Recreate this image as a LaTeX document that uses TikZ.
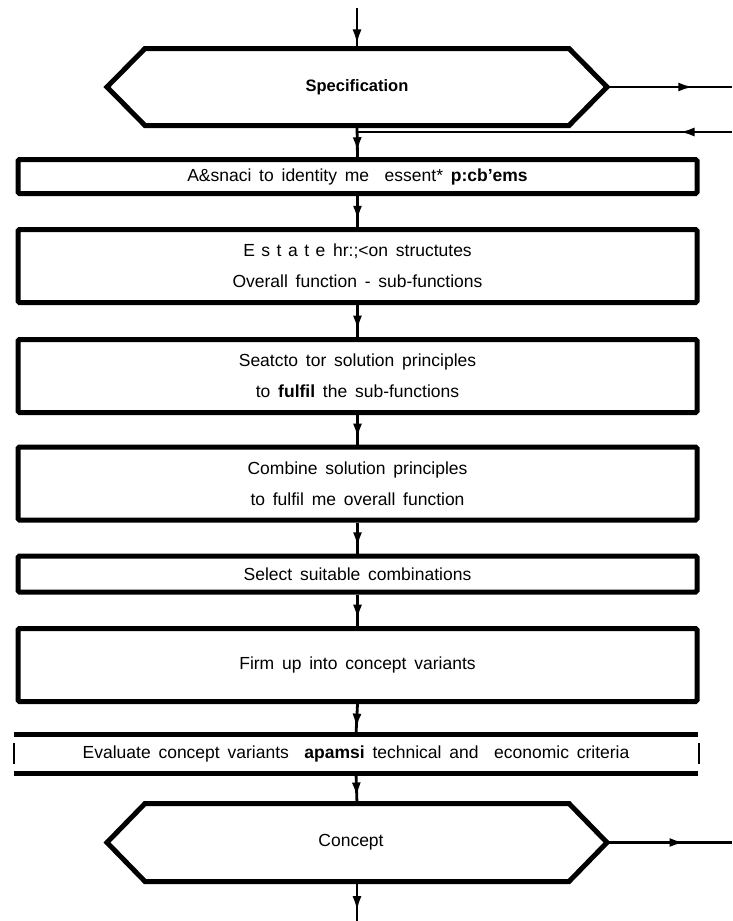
\documentclass[tikz,border=0pt]{standalone}
\usepackage{fontspec}
\setmainfont[WordSpace=1.6]{Liberation Sans}
\usetikzlibrary{arrows.meta,decorations.markings}

\tikzset{
  txt/.style={font=\fontsize{17.5}{31}\selectfont},
  flowbox/.style={draw, line width=5pt, rounded corners=1.5pt, minimum width=679pt,
    inner sep=0pt, align=center, txt},
  onebox/.style={flowbox, minimum height=34pt},
  twobox/.style={flowbox, minimum height=73pt},
  hexcore/.style={minimum width=424pt, minimum height=77pt, inner sep=0pt, outer sep=0pt, txt},
  hexline/.style={line width=5pt, line join=miter},
  link/.style={line width=2.8pt},
  midtip/.style={postaction={decorate}, decoration={markings,
    mark=at position #1 with {\arrow{Latex[length=15pt,width=9pt]}}}},
}
\newcommand{\lsp}{\hspace{6.5pt}}

\begin{document}
\begin{tikzpicture}[x=1pt,y=-1pt]
\useasboundingbox (0,0) rectangle (732,921);

% phase results (hexagons)
\node[hexcore, font=\fontsize{16.5}{20}\selectfont\bfseries] (spec) at (357,87) {Specification};
\coordinate (specR) at ([xshift=38pt]spec.east);
\coordinate (specL) at ([xshift=-38pt]spec.west);
\draw[hexline] (spec.north west) -- (spec.north east) -- (specR) -- (spec.south east)
  -- (spec.south west) -- (specL) -- cycle;

\node[hexcore, minimum height=78pt] (concept) at (357,842.5) {\hspace*{-12pt}Concept};
\coordinate (conceptR) at ([xshift=38pt]concept.east);
\coordinate (conceptL) at ([xshift=-38pt]concept.west);
\draw[hexline] (concept.north west) -- (concept.north east) -- (conceptR) -- (concept.south east)
  -- (concept.south west) -- (conceptL) -- cycle;

% working steps
\node[onebox] (b1) at (357.5,176.5) {A\&snaci to identity me\ \ essent* \textbf{p:cb'ems}};
\node[twobox] (b2) at (357.5,266) {E\lsp s\lsp t\lsp a\lsp t\lsp e hr:;<on structutes\\Overall function - sub-functions};
\node[twobox] (b3) at (357.5,376) {Seatcto tor solution principles\\to \textbf{fulfil} the sub-functions};
\node[twobox] (b4) at (357.5,483.5) {Combine solution principles\\to fulfil me overall function};
\node[onebox, minimum height=36pt] (b5) at (357.5,574) {Select suitable combinations};
\node[twobox] (b6) at (357.5,665) {Firm up into concept variants};

% evaluation step: heavy rules above and below, thin end bars
\node[minimum width=684pt, minimum height=38.5pt, inner sep=0pt, outer sep=0pt, txt] (b7) at (356,754)
  {Evaluate concept variants\ \ \textbf{apamsi} technical and\ \ economic criteria};
\draw[line width=5pt] (b7.north west) -- (b7.north east);
\draw[line width=5pt] (b7.south west) -- (b7.south east);
\draw[line width=1.3pt] ([yshift=-8pt]b7.north west) -- ([yshift=9pt]b7.south west);
\draw[line width=1.3pt] ([xshift=1pt,yshift=-8pt]b7.north east) -- ([xshift=1pt,yshift=9pt]b7.south east);

% main flow
\coordinate (taskin) at (357,8);
\coordinate (out) at (357,921);
\draw[link, midtip=0.9] (taskin) -- (spec.north);
\draw[link, midtip=0.85] (spec.south) -- (b1.north);
\draw[link, midtip=0.8] (b1.south) -- (b2.north);
\draw[link, midtip=0.8] (b2.south) -- (b3.north);
\draw[link, midtip=0.8] (b3.south) -- (b4.north);
\draw[link, midtip=0.8] (b4.south) -- (b5.north);
\draw[link, midtip=0.8] (b5.south) -- (b6.north);
\draw[link, midtip=0.8] (b6.south) -- (b7.north);
\draw[link, midtip=0.8] (b7.south) -- (concept.north);
\draw[link, midtip=0.75] (concept.south) -- (out);

% side links
\coordinate (fbA) at (732,87);
\coordinate (fbB) at (732,132);
\coordinate (joinB) at (spec.south |- fbB);
\coordinate (fbC) at (732,842.5);
\draw[link, midtip=0.69] (specR) -- (fbA);
\draw[link, midtip=0.14] (fbB) -- (joinB);
\draw[link, midtip=0.62] (conceptR) -- (fbC);
\end{tikzpicture}
\end{document}
